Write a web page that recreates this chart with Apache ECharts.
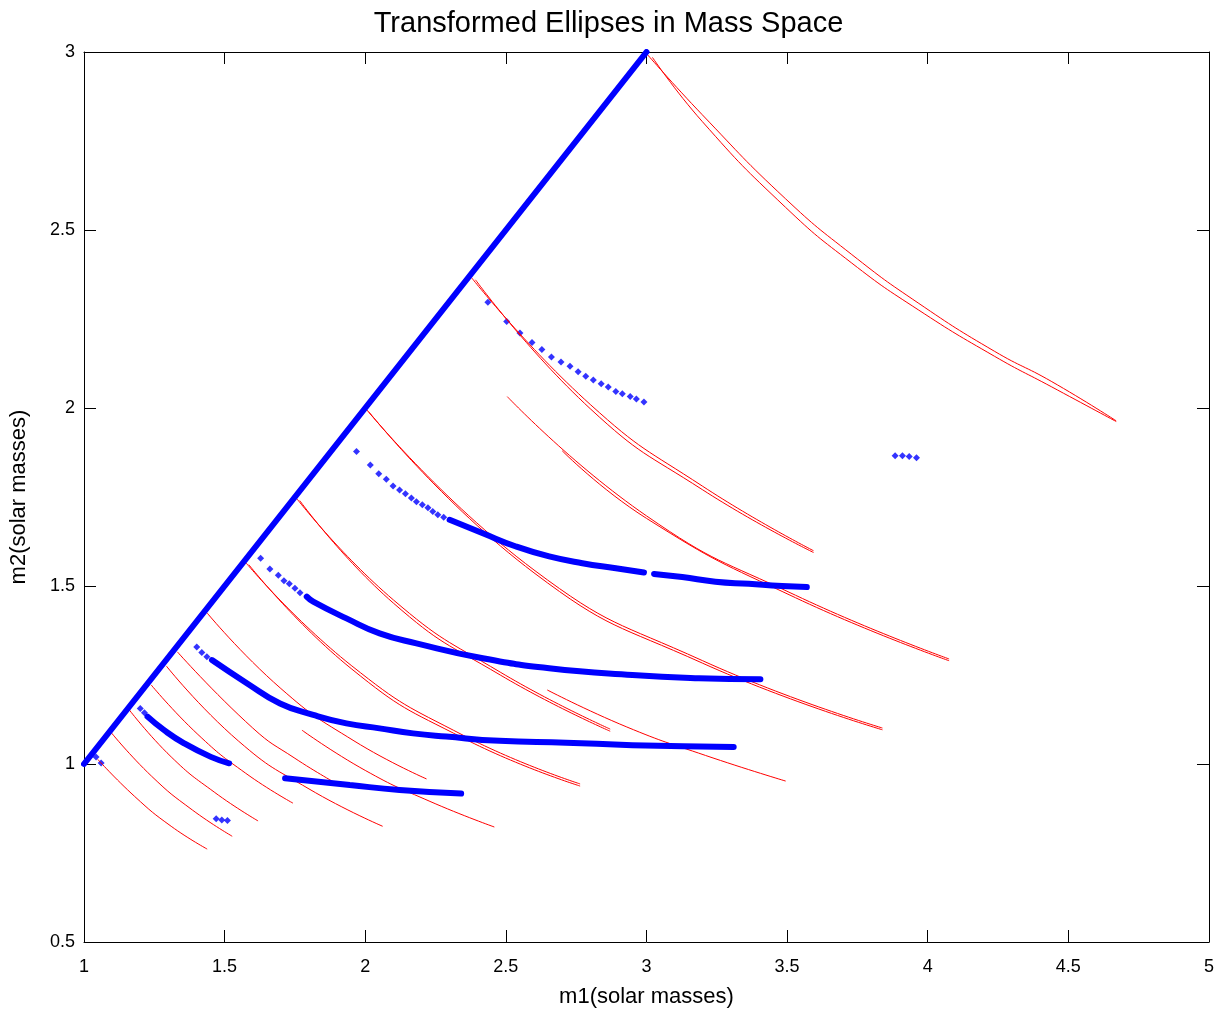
<!DOCTYPE html>
<html>
<head>
<meta charset="utf-8">
<script src="https://cdn.jsdelivr.net/npm/echarts@6/dist/echarts.min.js"></script>
<style>
  html, body { margin: 0; padding: 0; background: #fff; }
  #chart { width: 1217px; height: 1014px; }
</style>
</head>
<body>
<div id="chart"></div>
<script>
// 质量空间中的变换椭圆 (m1, m2)

const xTicks = [1, 1.5, 2, 2.5, 3, 3.5, 4, 4.5, 5];
const yTicks = [0.5, 1, 1.5, 2, 2.5, 3];

// 红色曲线 (每条为 [m1, m2] 点)
const red1 = [[1.049, 1.013], [1.18, 0.909], [1.31, 0.825], [1.438, 0.761]];
const red2 = [[1.098, 1.087], [1.24, 0.966], [1.385, 0.871], [1.527, 0.797]];
const red3 = [[1.161, 1.152], [1.31, 1.02], [1.465, 0.92], [1.619, 0.84]];
const red4 = [[1.239, 1.222], [1.405, 1.083], [1.575, 0.974], [1.743, 0.89]];
const red5 = [[1.293, 1.275], [1.55, 1.064], [1.8, 0.93], [2.062, 0.825]];
const red6 = [[1.332, 1.315], [1.6, 1.101], [1.75, 1.016], [1.9, 0.944]];
const red7 = [[1.438, 1.424], [1.7, 1.212], [1.96, 1.065], [2.218, 0.958]];
const red7m = [[1.775, 1.095], [2.0, 0.982], [2.23, 0.895], [2.459, 0.823]];
const red8 = [[1.576, 1.565], [1.95, 1.277], [2.35, 1.08], [2.764, 0.944]];
const red8b = [[1.586, 1.56], [1.95, 1.268], [2.35, 1.072], [2.764, 0.938]];
const red9 = [[1.757, 1.745], [2.1, 1.461], [2.48, 1.258], [2.871, 1.098]];
const red9b = [[1.767, 1.74], [2.1, 1.452], [2.48, 1.25], [2.871, 1.092]];
const red9m = [[2.647, 1.208], [2.93, 1.104], [3.21, 1.024], [3.495, 0.952]];
const red10 = [[2.002, 1.998], [2.6, 1.545], [3.2, 1.29], [3.839, 1.101]];
const red10b = [[2.012, 1.99], [2.6, 1.537], [3.2, 1.283], [3.839, 1.096]];
const red11 = [[2.378, 2.366], [2.8, 2.01], [3.2, 1.78], [3.594, 1.599]];
const red11b = [[2.392, 2.36], [2.8, 1.998], [3.2, 1.77], [3.594, 1.594]];
const red11m = [[2.505, 2.032], [3.0, 1.697], [3.53, 1.474], [4.076, 1.295]];
const red11mb = [[2.7, 1.88], [3.0, 1.69], [3.53, 1.467], [4.076, 1.29]];
const red12 = [[3.003, 2.993], [3.198, 2.824], [3.494, 2.588], [3.73, 2.431], [3.966, 2.295], [4.238, 2.159], [4.439, 2.075], [4.67, 1.964]];
const red12b = [[3.021, 2.985], [3.198, 2.805], [3.494, 2.564], [3.73, 2.407], [3.966, 2.276], [4.238, 2.145], [4.439, 2.06], [4.67, 1.962]];

// 蓝色粗线 (密集点)
const blueDiag = [[1.0, 1.0], [2.0, 2.0], [3.0, 3.0]];
const blue3 = [[2.3, 1.686], [2.418, 1.648], [2.536, 1.611], [2.654, 1.583], [2.772, 1.564], [2.891, 1.55], [2.991, 1.538]];
const blue3b = [[3.027, 1.534], [3.127, 1.525], [3.245, 1.512], [3.364, 1.506], [3.482, 1.5], [3.57, 1.497]];
const blue4 = [[1.792, 1.47], [1.815, 1.456], [1.933, 1.409], [2.051, 1.367], [2.182, 1.339], [2.418, 1.297], [2.654, 1.269], [2.95, 1.25], [3.186, 1.241], [3.405, 1.238]];
const blue5 = [[1.455, 1.292], [1.579, 1.227], [1.697, 1.17], [1.815, 1.138], [1.933, 1.114], [2.051, 1.1], [2.17, 1.086], [2.288, 1.077], [2.477, 1.065], [2.714, 1.06], [2.95, 1.053], [3.31, 1.048]];
const blue6 = [[1.226, 1.133], [1.285, 1.095], [1.356, 1.058], [1.451, 1.02], [1.516, 1.002]];
const blue7 = [[1.715, 0.96], [1.945, 0.941], [2.122, 0.927], [2.341, 0.917]];

// 蓝色稀疏点
const blueDots = [
  [2.436, 2.297], [2.503, 2.243], [2.55, 2.211], [2.593, 2.184], [2.628, 2.164], [2.662, 2.143],
  [2.696, 2.129], [2.728, 2.117], [2.757, 2.102], [2.784, 2.089], [2.811, 2.079], [2.839, 2.068],
  [2.864, 2.059], [2.891, 2.046], [2.914, 2.04], [2.942, 2.032], [2.964, 2.025], [2.991, 2.017],
  [1.969, 1.878], [2.018, 1.84], [2.048, 1.815], [2.075, 1.8], [2.099, 1.781], [2.122, 1.77],
  [2.143, 1.759], [2.164, 1.747], [2.182, 1.737], [2.203, 1.728], [2.223, 1.72], [2.24, 1.709],
  [2.258, 1.7], [2.279, 1.693],
  [1.628, 1.578], [1.661, 1.548], [1.691, 1.53], [1.711, 1.515], [1.73, 1.506], [1.75, 1.494], [1.768, 1.481],
  [1.401, 1.329], [1.419, 1.313], [1.437, 1.301],
  [1.2, 1.156], [1.215, 1.144],
  [1.47, 0.846], [1.49, 0.843], [1.51, 0.841],
  [3.884, 1.866], [3.91, 1.866], [3.934, 1.864], [3.96, 1.86],
  [1.043, 1.02], [1.061, 1.003]
];

const redCurves = [red1, red2, red3, red4, red5, red6, red7, red7m, red8, red8b, red9, red9b, red9m,
  red10, red10b, red11, red11b, red11m, red11mb, red12, red12b];
const blueCurves = [blueDiag, blue3, blue3b, blue4, blue5, blue6, blue7];

const chart = echarts.init(document.getElementById('chart'));

const font = 'Liberation Sans, Arial, sans-serif';
const axisCommon = {
  type: 'value',
  axisLine: { show: true, onZero: false, lineStyle: { color: '#000', width: 1 } },
  axisTick: { show: true, inside: true, length: 12, lineStyle: { color: '#000' } },
  splitLine: { show: false }
};

const series = [];
redCurves.forEach(d => {
  series.push({
    type: 'line', data: d, smooth: true, showSymbol: false,
    lineStyle: { color: '#ff0000', width: 1 }, silent: true
  });
});
blueCurves.forEach(d => {
  series.push({
    type: 'line', data: d, smooth: true, showSymbol: false,
    lineStyle: { color: '#0000ff', width: 6, cap: 'round' }, silent: true
  });
});
series.push({
  type: 'scatter', data: blueDots, symbol: 'diamond', symbolSize: 7,
  itemStyle: { color: '#0000ff' }, silent: true
});

const option = {
  animation: false,
  backgroundColor: '#fff',
  title: {
    text: 'Transformed Ellipses in Mass Space',
    left: 'center', top: 4,
    textStyle: { fontFamily: font, fontSize: 29, fontWeight: 'normal', color: '#000' }
  },
  grid: { left: 84, right: 6, top: 52, bottom: 72 },
  xAxis: [
    Object.assign({}, axisCommon, {
      min: 1, max: 5, interval: 0.5, position: 'bottom',
      name: 'm1(solar masses)', nameLocation: 'middle', nameGap: 44,
      nameTextStyle: { fontFamily: font, fontSize: 22, color: '#000' },
      axisLabel: { margin: 16, fontFamily: font, fontSize: 18, color: '#000' }
    }),
    Object.assign({}, axisCommon, {
      min: 1, max: 5, interval: 0.5, position: 'top',
      axisLabel: { show: false }
    })
  ],
  yAxis: [
    Object.assign({}, axisCommon, {
      min: 0.5, max: 3, interval: 0.5, position: 'left',
      name: 'm2(solar masses)', nameLocation: 'middle', nameGap: 54,
      nameTextStyle: { fontFamily: font, fontSize: 22, color: '#000' },
      axisLabel: { margin: 9, fontFamily: font, fontSize: 18, color: '#000' }
    }),
    Object.assign({}, axisCommon, {
      min: 0.5, max: 3, interval: 0.5, position: 'right',
      axisLabel: { show: false }
    })
  ],
  series: series
};

chart.setOption(option);
</script>
</body>
</html>
